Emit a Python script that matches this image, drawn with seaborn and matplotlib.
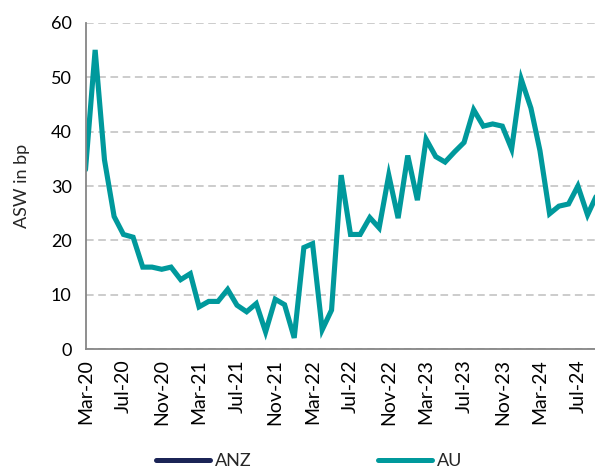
import pandas as pd
import numpy as np
import matplotlib
matplotlib.use('Agg')
import matplotlib.pyplot as plt
import matplotlib.dates as mdates
from matplotlib.lines import Line2D
import seaborn as sns

# monthly ASW values (bp)
start_month = '2020-03-01'
au_values = [33.0, 55.0, 34.8, 24.4, 21.1, 20.6, 15.1, 15.1, 14.7, 15.1,
             12.8, 13.9, 7.8, 8.8, 8.8, 11.0, 8.1, 6.9, 8.4, 3.2,
             9.2, 8.2, 2.1, 18.7, 19.4, 3.6, 7.2, 32.0, 21.1, 21.1,
             24.2, 22.3, 32.0, 24.1, 35.6, 27.4, 38.6, 35.4, 34.4, 36.3,
             38.0, 44.0, 41.0, 41.4, 41.0, 36.8, 49.6, 44.3, 36.5, 24.9,
             26.3, 26.7, 30.0, 24.7, 28.5]
series_names = ['ANZ', 'AU']
series_colors = ['#1B2456', '#00999C']
y_ticks = [0, 10, 20, 30, 40, 50, 60]

dates = pd.date_range(start_month, periods=len(au_values), freq='MS')
df = pd.DataFrame({'date': dates, 'ASW': au_values})

sns.set_style('white')
plt.rcParams['font.family'] = ['Lato', 'DejaVu Sans']

fig = plt.figure(figsize=(5.95, 4.68), dpi=100)
ax = fig.add_axes([0.1437, 0.2536, 0.8563, 0.6979])

sns.lineplot(data=df, x='date', y='ASW', ax=ax, color=series_colors[1],
             linewidth=3.7, solid_joinstyle='miter')

ax.set_ylim(0, 60)
ax.set_yticks(y_ticks)
ax.set_xlim(pd.Timestamp('2020-03-01'), pd.Timestamp('2024-08-25'))
ax.xaxis.set_major_locator(mdates.MonthLocator(bymonth=[3, 7, 11]))
ax.xaxis.set_major_formatter(mdates.DateFormatter('%b-%y'))
plt.setp(ax.get_xticklabels(), rotation=90)

ax.yaxis.grid(True, color='#BFBFBF', linestyle=(0, (5, 3)), linewidth=1.1)
ax.xaxis.grid(False)
ax.set_axisbelow(True)

for side in ['top', 'right']:
    ax.spines[side].set_visible(False)
for side in ['left', 'bottom']:
    ax.spines[side].set_color('#868686')
    ax.spines[side].set_linewidth(1.3)

ax.tick_params(axis='both', colors='#868686', labelcolor='#000000',
               direction='out', width=1.1)
ax.tick_params(axis='y', length=6, pad=4, labelsize=13)
ax.tick_params(axis='x', length=4, pad=3, labelsize=14)

ax.set_xlabel('')
ax.set_ylabel('ASW in bp', fontsize=13, labelpad=15)

handles = [Line2D([], [], color=c, linewidth=3.6, solid_capstyle='round')
           for c in series_colors]
fig.legend(handles, series_names, loc='center left',
           bbox_to_anchor=(156 / 595, 7 / 468), ncol=2, frameon=False,
           fontsize=13, handlelength=3.0, handletextpad=0.25,
           columnspacing=7.0, borderpad=0, borderaxespad=0)

fig.savefig('out.png', dpi=100)
